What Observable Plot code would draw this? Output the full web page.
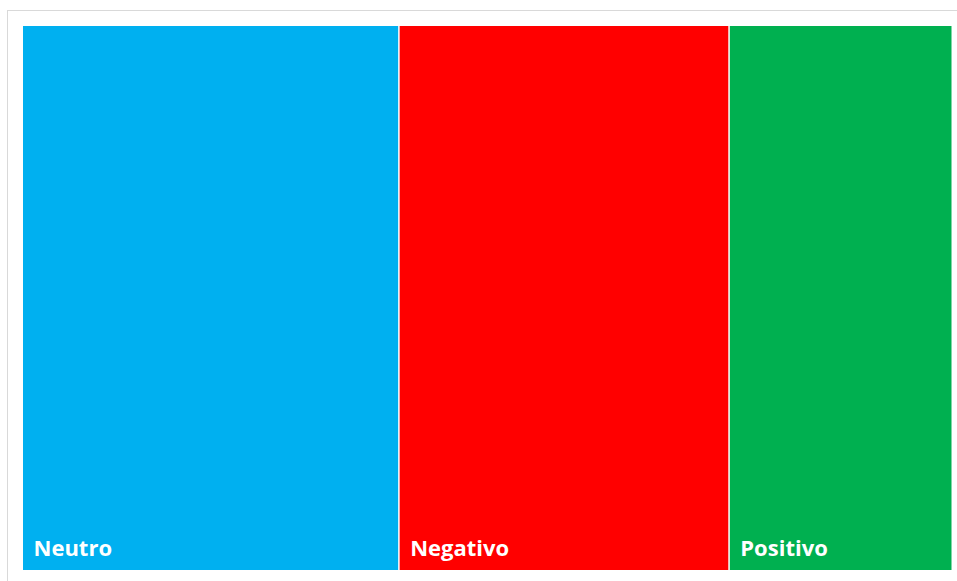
<!DOCTYPE html>
<html>
<head>
<meta charset="utf-8">
<script src="https://cdn.jsdelivr.net/npm/d3@7"></script>
<script src="https://cdn.jsdelivr.net/npm/@observablehq/plot@0.6"></script>
<style>
  html, body { margin: 0; padding: 0; background: #fff; overflow: hidden; }
  #wrap { position: relative; width: 957px; height: 581px; }
  #border { position: absolute; left: 7px; top: 10px; width: 1200px; height: 1200px;
            border-top: 1px solid #d9d9d9; border-left: 1px solid #d9d9d9; }
  #chart { position: absolute; left: 0; top: 0; }
</style>
</head>
<body>
<div id="wrap"><div id="border"></div><div id="chart"></div></div>
<script>
// Share of comments by sentiment (percent)
const categories = ["Neutro", "Negativo", "Positivo"];
const shares = [40.5, 35.5, 24];
const colors = ["#00B0F0", "#FF0000", "#00B050"];

const data = categories.map((name, i) => ({name, value: shares[i]}));

const chart = Plot.plot({
  width: 957,
  height: 581,
  marginLeft: 23,
  marginRight: 4,
  marginTop: 26,
  marginBottom: 11,
  x: {domain: [0, d3.sum(shares)], axis: null},
  color: {domain: categories, range: colors},
  style: {background: "transparent"},
  marks: [
    Plot.rectX(data, Plot.stackX({x: "value", fill: "name", insetRight: 1.5, order: null})),
    Plot.text(data, Plot.stackX1({
      x: "value", text: "name", order: null,
      frameAnchor: "bottom", textAnchor: "start", lineAnchor: "bottom",
      dx: 10, dy: -15,
      fill: "white", fontSize: 22, fontWeight: "bold",
      fontFamily: "'Open Sans', sans-serif"
    }))
  ]
});
document.getElementById("chart").appendChild(chart);
</script>
</body>
</html>
